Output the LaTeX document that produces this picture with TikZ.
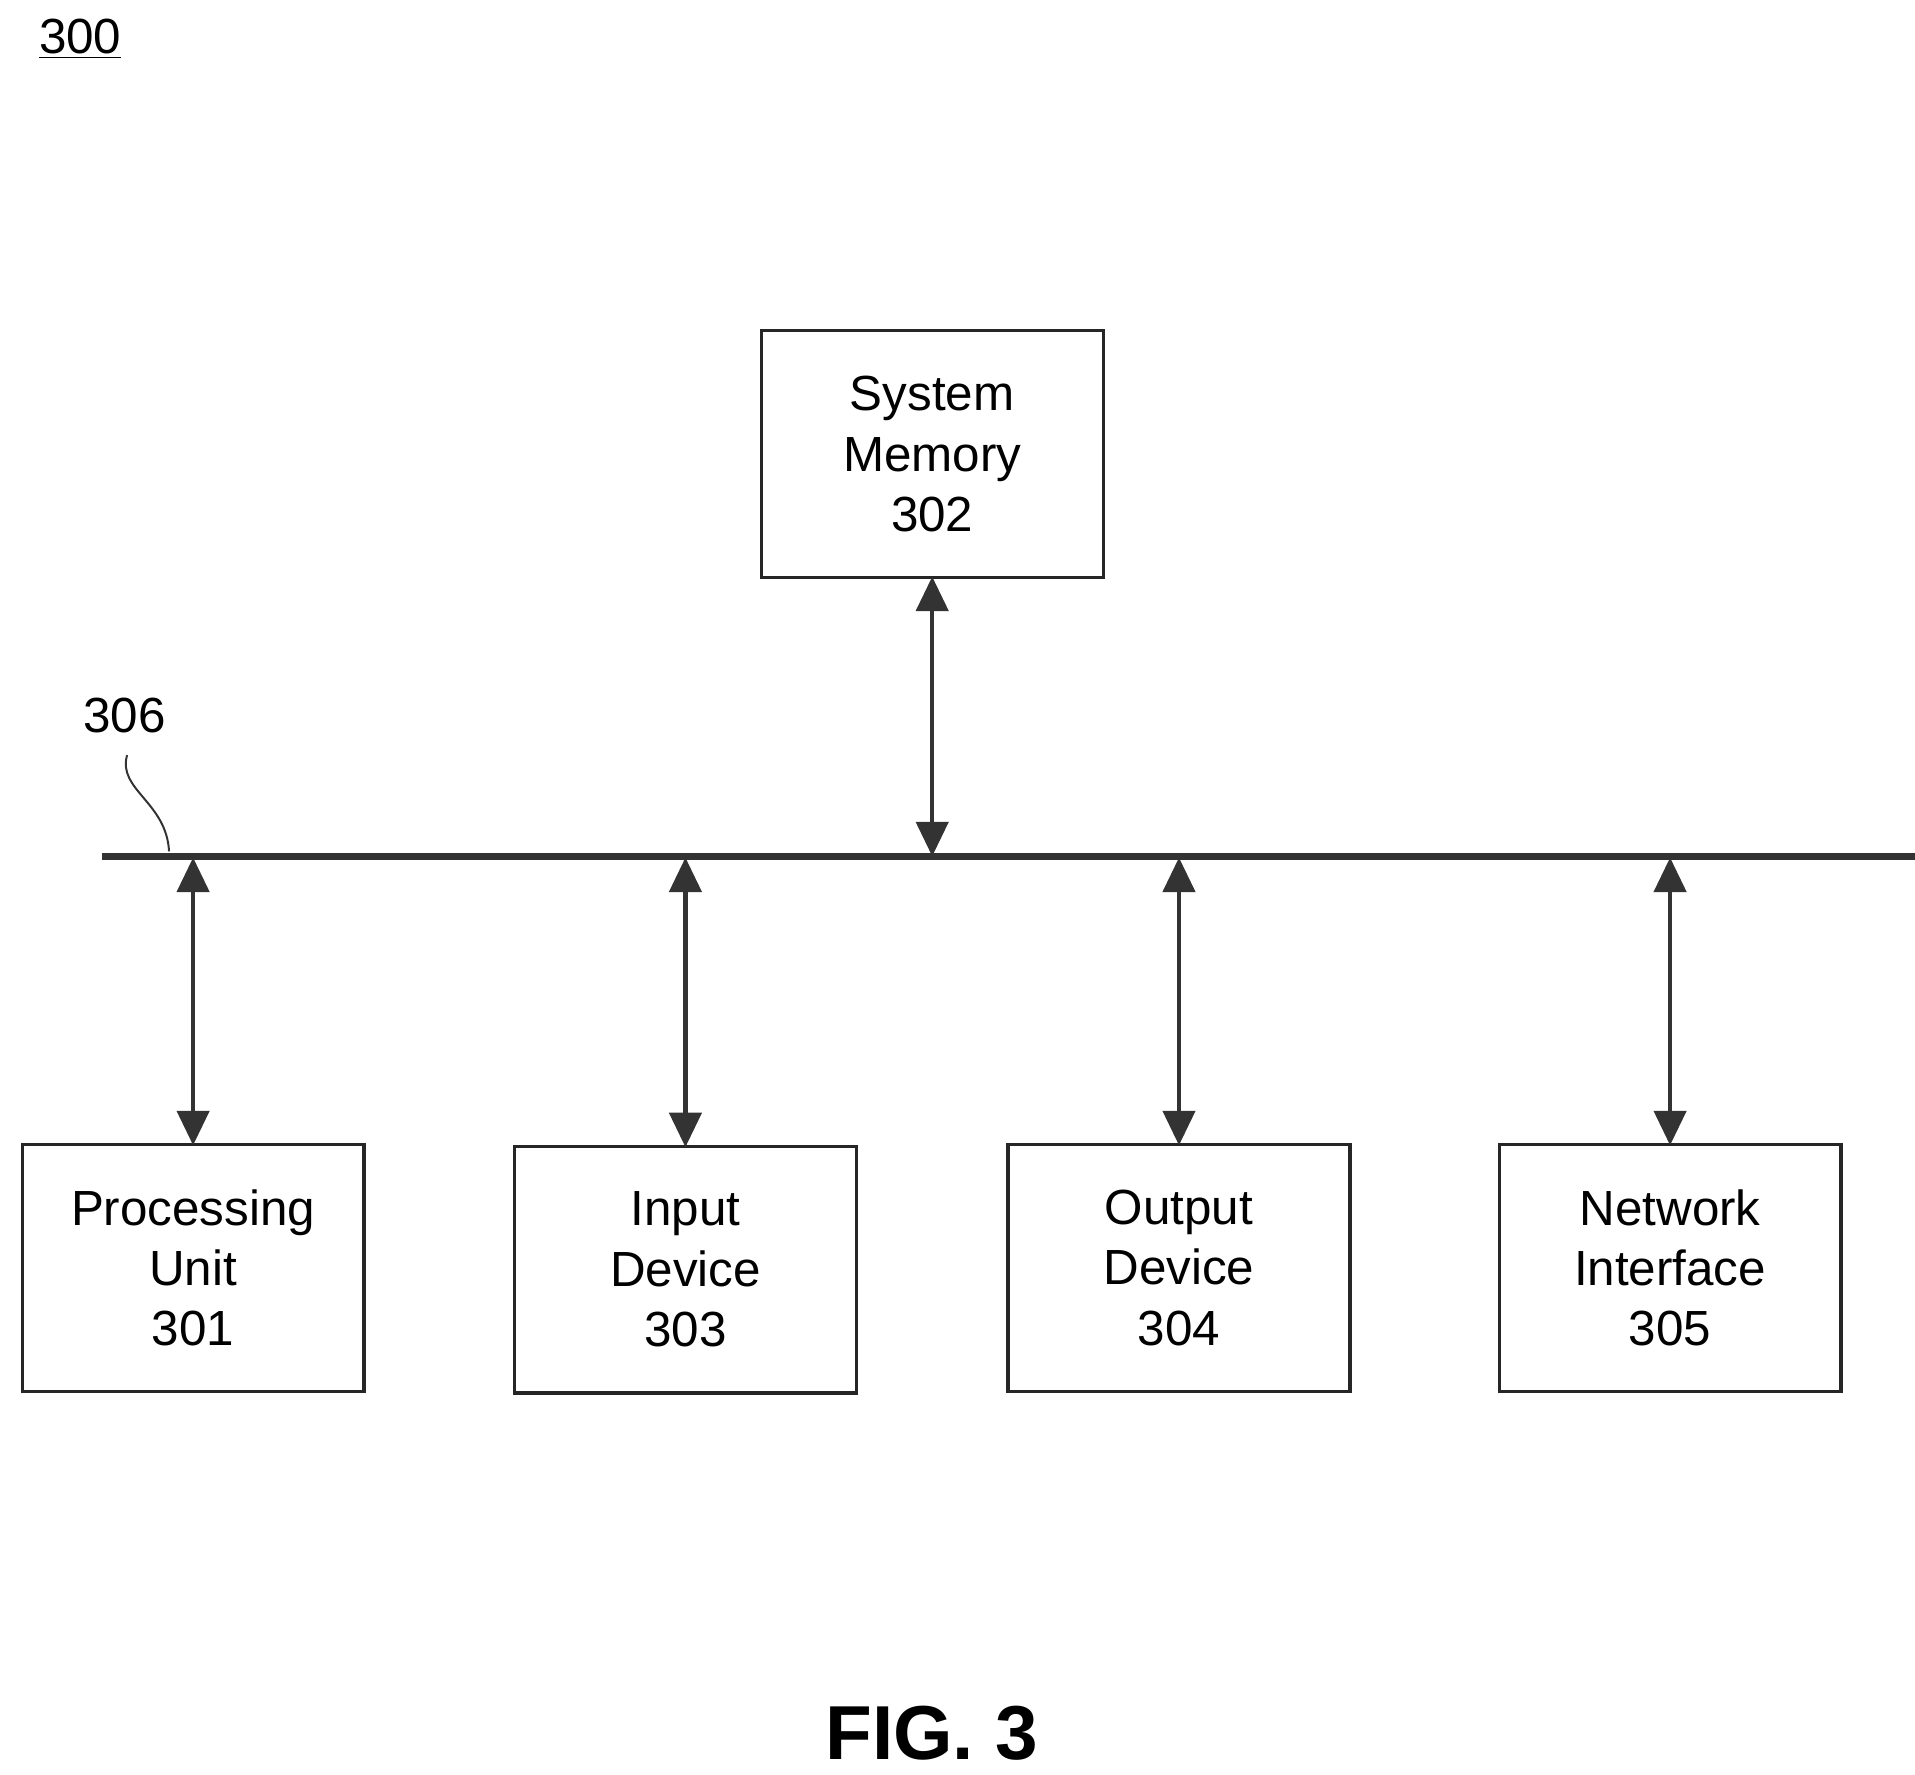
\documentclass[tikz,border=0pt]{standalone}
\usepackage{fontspec}
\setmainfont{Liberation Sans}
\usetikzlibrary{arrows.meta}
\begin{document}
\begin{tikzpicture}[x=0.5pt,y=-0.5pt,
  box/.style={draw=black!85,line width=1.3pt,minimum width=138.5pt,minimum height=100pt,align=center,font=\fontsize{20}{24.5}\selectfont,inner sep=0pt},
  arr/.style={draw=black!80,line width=1.8pt,{Triangle[length=14pt,width=13pt]}-{Triangle[length=14pt,width=13pt]},shorten <=-1pt,shorten >=-1pt},
  lbl/.style={font=\fontsize{20}{24}\selectfont}]
\useasboundingbox (0,0) rectangle (1552,1438);
\node[lbl] (n300) at (65,32) {\underline{300}};
\node[box] (mem) at (755.5,368) {System\\Memory\\302};
\node[box] (pu) at (156.5,1027.5) {Processing\\Unit\\301};
\node[box] (in) at (555.5,1029) {Input\\Device\\303};
\node[box] (out) at (955.5,1027.5) {Output\\Device\\304};
\node[box] (net) at (1353.5,1027.5) {Network\\Interface\\305};
\coordinate (busL) at (83,694);
\coordinate (busR) at (1552,694);
\draw[black!80,line width=2.6pt] (busL) -- (busR);
\node[lbl] (n306) at (101,580) {306};
\coordinate (sq) at (137,690);
\draw[black!80,line width=0.8pt] (103,612) .. controls (95,640) and (135,650) .. (sq);
\coordinate (bm) at (755.5,692);
\coordinate (b1) at (156.5,697);
\coordinate (b3) at (555.5,697);
\coordinate (b4) at (955.5,697);
\coordinate (b5) at (1353.5,697);
\draw[arr] (mem.south) -- (bm);
\draw[arr] (b1) -- (pu.north);
\draw[arr] (b3) -- (in.north);
\draw[arr] (b4) -- (out.north);
\draw[arr] (b5) -- (net.north);
\node[font=\fontsize{31}{36}\selectfont\bfseries] (fig) at (755,1405) {FIG. 3};
\end{tikzpicture}
\end{document}
